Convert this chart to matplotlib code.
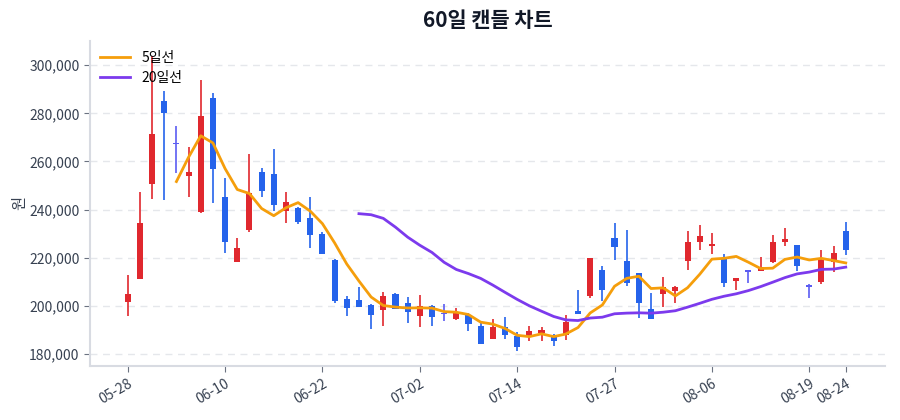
import matplotlib

matplotlib.use("Agg")
import matplotlib.pyplot as plt
import numpy as np
import pandas as pd

plt.rcParams["font.family"] = ["Noto Sans CJK KR", "DejaVu Sans"]

RED = "#e0282e"
BLUE = "#2563eb"
FLAT = "#5b5cf2"
ORANGE = "#f59e0b"
PURPLE = "#7c3aed"
TEXT = "#374151"
SPINE = "#d8dbe2"

opens = [201700, 211100, 250500, 285000, 267500, 253900, 238800, 286200, 245000, 218000,
         231400, 255600, 254900, 239200, 240600, 236300, 229700, 219100, 202900, 202200,
         200400, 198100, 204800, 201000, 195700, 200000, 196700, 194300, 196100, 191600,
         186000, 191000, 187200, 187400, 188500, 186900, 187800, 197900, 204000, 214900,
         228300, 218500, 213400, 198500, 204700, 206000, 218600, 226500, 224700, 219600,
         210200, 214400, 214500, 218200, 226500, 225400, 208300, 209900, 218200, 230900]
closes = [204800, 234200, 271600, 280000, 267500, 255400, 278800, 256700, 226600, 224100,
          247000, 247700, 241700, 243100, 234800, 229300, 221600, 201800, 199100, 199500,
          196000, 204000, 198500, 197200, 199900, 195400, 196700, 197200, 192400, 184100,
          191300, 187700, 183000, 189600, 189900, 185500, 193100, 196500, 219900, 206500,
          224400, 209500, 201000, 194300, 207900, 207600, 226500, 229000, 225800, 209600,
          211600, 214400, 215900, 226500, 227900, 216500, 208300, 219200, 221900, 223000]
highs = [212700, 247400, 304000, 289300, 274600, 266100, 293800, 288500, 253200, 228300,
         262900, 257200, 265000, 247100, 241000, 245200, 230600, 219600, 203900, 207800,
         200500, 205700, 205300, 203500, 204400, 200300, 200700, 198900, 196800, 192900,
         194300, 195150, 189200, 191600, 191000, 188100, 196100, 206700, 220000, 216400,
         234300, 231600, 213400, 205100, 212000, 208100, 231000, 233600, 230200, 221600,
         211600, 215000, 220300, 229600, 232300, 225400, 209200, 223300, 224700, 234800]
lows = [195700, 210900, 244300, 243900, 255000, 245000, 238400, 242800, 222000, 218000,
        230700, 245200, 239200, 234400, 233800, 224000, 221600, 201100, 195700, 199500,
        190500, 191400, 198500, 192700, 191000, 191500, 193800, 194000, 189600, 184000,
        186000, 186000, 181000, 185400, 185400, 183300, 185800, 196500, 203000, 202000,
        218900, 208100, 194700, 194300, 199600, 201200, 214700, 223300, 221400, 207800,
        206500, 209500, 214500, 217800, 224800, 214500, 203000, 209200, 214100, 221000]
tick_pos = [0, 8, 16, 24, 32, 40, 48, 56, 59]
tick_labels = ["05-28", "06-10", "06-22", "07-02", "07-14", "07-27", "08-06", "08-19", "08-24"]

df = pd.DataFrame({"open": opens, "close": closes, "high": highs, "low": lows})
ma5 = df["close"].rolling(5).mean()
ma20 = df["close"].rolling(20).mean()
x = np.arange(len(df))

fig, ax = plt.subplots(figsize=(9, 4.2), dpi=100)
fig.subplots_adjust(left=0.1, right=0.983, bottom=0.129, top=0.902)

for i, r in df.iterrows():
    if r["close"] > r["open"]:
        c = RED
    elif r["close"] < r["open"]:
        c = BLUE
    else:
        c = FLAT
    ax.vlines(i, r["low"], r["high"], color=c, linewidth=1.2, zorder=2)
    lo = min(r["open"], r["close"])
    h = max(abs(r["close"] - r["open"]), 700)
    if h == 700:
        lo -= 350
    ax.bar(i, h, 0.5, bottom=lo, color=c, zorder=3)

ax.plot(x, ma5, color=ORANGE, linewidth=2, label="5일선", zorder=4)
ax.plot(x, ma20, color=PURPLE, linewidth=2, label="20일선", zorder=4)

ax.set_xlim(-3.1, 62.2)
ax.set_ylim(175000, 310000)
ax.set_yticks(np.arange(180000, 300001, 20000))
ax.yaxis.set_major_formatter(matplotlib.ticker.FuncFormatter(lambda v, p: f"{v:,.0f}"))
ax.set_xticks(tick_pos)
ax.set_xticklabels(tick_labels, rotation=30, ha="right", rotation_mode="anchor")
ax.tick_params(colors=TEXT, labelsize=10, length=4)
ax.tick_params(axis="both", color="#6b7280")
ax.grid(True, axis="y", linestyle=(0, (5, 4)), color="#e5e7eb", linewidth=1)
ax.set_axisbelow(True)
for s in ["top", "right"]:
    ax.spines[s].set_visible(False)
for s in ["left", "bottom"]:
    ax.spines[s].set_color(SPINE)
    ax.spines[s].set_linewidth(1.5)

ax.set_ylabel("원", color=TEXT, fontsize=11)
ax.yaxis.set_label_coords(-0.078, 0.5)
ax.set_title("60일 캔들 차트", fontsize=15, fontweight="bold", color="#111827", pad=10)
ax.legend(loc="upper left", frameon=False, fontsize=10, handlelength=2.2,
          labelspacing=0.45, borderaxespad=0.3, handletextpad=0.8)

fig.savefig("out.png")
